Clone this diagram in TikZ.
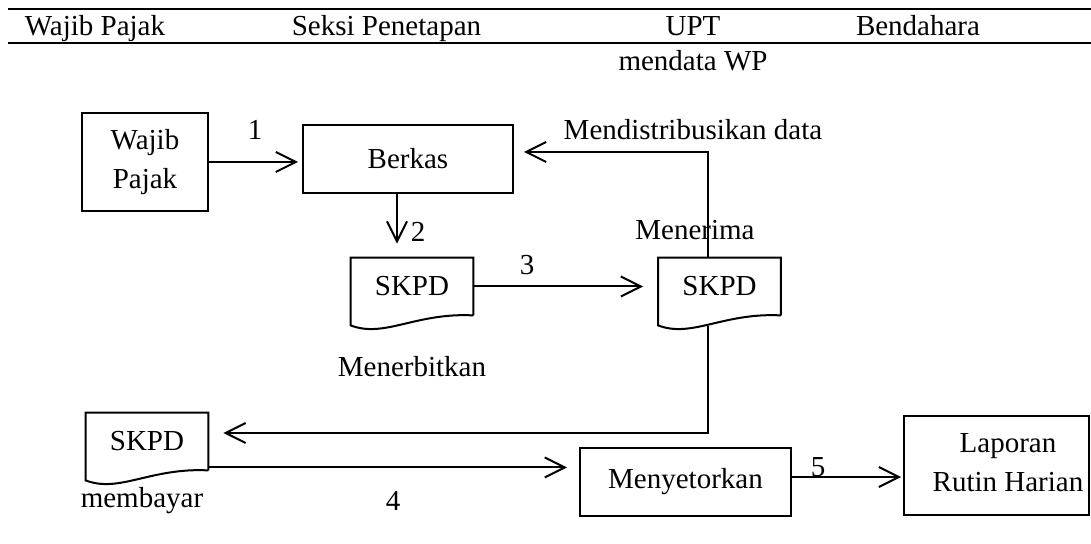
\documentclass[tikz,border=0pt]{standalone}
\usepackage{fontspec}
\setmainfont{Liberation Serif}
\usetikzlibrary{arrows.meta,calc}
\tikzset{
  kotak/.style={draw,line width=1pt,inner sep=0pt,align=center},
  dok/.style={inner sep=0pt,minimum width=61pt,minimum height=28.5pt},
  panah/.style={-{Straight Barb[length=10pt,width=10pt,line width=1pt]},line width=1pt},
  garis/.style={line width=1pt},
  teks/.style={inner sep=0pt}
}
% simbol dokumen: kotak dengan sisi bawah bergelombang
\newcommand{\dokumen}[1]{%
  \draw[garis] (#1.south east) -- (#1.north east) -- (#1.north west) -- ($(#1.south west)+(0,10)$)
    .. controls +(34,13) and +(-58,-3) .. (#1.south east);}

\begin{document}
\begin{tikzpicture}[x=0.5pt,y=-0.5pt,font=\fontsize{14.5}{19.5}\selectfont]
  \useasboundingbox (0,0) rectangle (1091,544);
  % kepala tabel
  \draw[line width=1.1pt] (8,9) -- (1091,9);
  \draw[line width=1.1pt] (8,43) -- (1091,43);
  \node[teks,anchor=base] (hwp) at (95,36) {Wajib Pajak};
  \node[teks,anchor=base] (hseksi) at (386.5,36) {Seksi Penetapan};
  \node[teks,anchor=base] (hupt) at (693,36) {UPT};
  \node[teks,anchor=base] (hbend) at (918,36) {Bendahara};

  % simpul
  \node[kotak,minimum width=63pt,minimum height=49pt] (wp) at (145,162) {Wajib\\Pajak};
  \node[kotak,minimum width=105pt,minimum height=34pt] (berkas) at (408,159) {Berkas};
  \node[dok] (s1) at (412,286.5) {SKPD};
  \node[dok] (s2) at (719.5,286.5) {SKPD};
  \node[dok] (s3) at (147,441.5) {SKPD};
  \dokumen{s1}
  \dokumen{s2}
  \dokumen{s3}
  \node[kotak,minimum width=105.5pt,minimum height=34pt] (setor) at (685.5,482) {Menyetorkan};
  \node[kotak,minimum width=92.5pt,minimum height=49.5pt] (lap) at (996.5,465.5) {};
  \node[teks,align=center] (laptks) at (1008,463) {Laporan\\Rutin Harian};

  % alur
  \draw[panah,shorten >=2pt] (wp.east) -- (wp.east -| berkas.west);
  \coordinate (a2) at ($(berkas.south)+(-11,0)$);
  \draw[panah,shorten >=7pt] (a2) -- (a2 |- s1.north);
  \draw[panah,shorten >=7.5pt] (s1.east) -- (s2.west);
  \coordinate (t2) at ($(s2.north)+(-11.5,0)$);
  \coordinate (siku1) at (708,152);
  \draw[panah,shorten >=5pt] (t2) -- (siku1) -- (siku1 -| berkas.east);
  \coordinate (b2) at ($(s2.south)+(-11.5,11)$);
  \coordinate (siku2) at (708,433);
  \draw[panah,shorten >=7.5pt] (b2) -- (siku2) -- (siku2 -| s3.east);
  \coordinate (a4) at ($(s3.south east)+(0,-3)$);
  \draw[panah,shorten >=6pt] (a4) -- (a4 -| setor.west);
  \coordinate (a5) at ($(setor.east)+(0,-5)$);
  \draw[panah,shorten >=1pt] (a5) -- (a5 -| lap.west);

  % label
  \node[teks] (n1) at (255,130) {1};
  \node[teks] (n2) at (418,232) {2};
  \node[teks] (n3) at (527,265) {3};
  \node[teks] (n4) at (393,501) {4};
  \node[teks] (n5) at (818,467) {5};
  \node[teks] (ldist) at (693,130) {Mendistribusikan data};
  \node[teks] (lterima) at (695,230) {Menerima};
  \node[teks] (lterbit) at (412,367) {Menerbitkan};
  \node[teks] (lbayar) at (142,501) {membayar};
  \node[teks,anchor=base] (ldata) at (693,71) {mendata WP};
\end{tikzpicture}
\end{document}
